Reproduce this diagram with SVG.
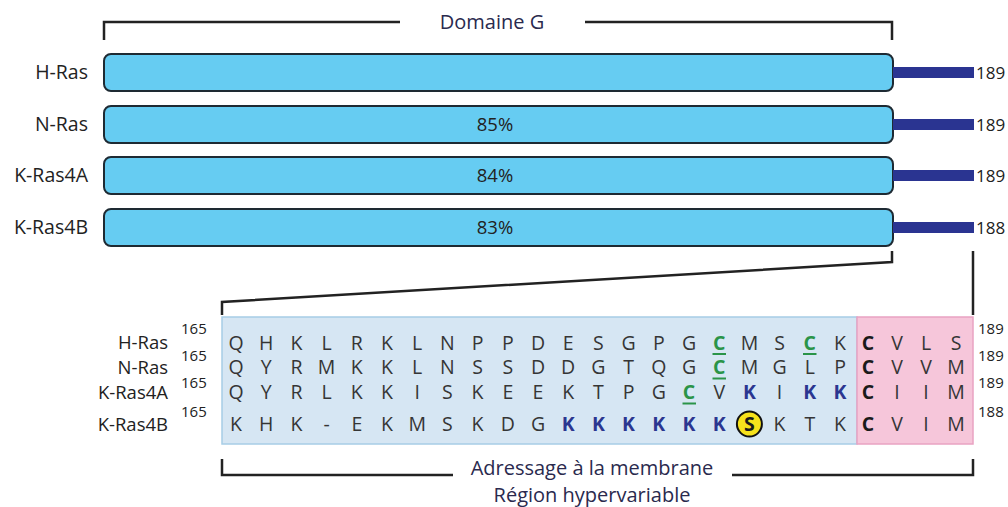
<svg xmlns="http://www.w3.org/2000/svg" width="1008" height="507" viewBox="0 0 1008 507">
<style>
text{font-family:"Open Sans","Liberation Sans",sans-serif;}
.lbl{font-size:19.5px;fill:#222;text-anchor:end;}
.slbl{font-size:18.5px;fill:#222;text-anchor:end;}
.bar{fill:#66ccf2;stroke:#1e2a33;stroke-width:2;}
.tail{fill:#2a3491;}
.num{font-size:17px;fill:#222;}
.pct{font-size:18.5px;fill:#222;text-anchor:middle;}
.brk{fill:none;stroke:#222;stroke-width:2.5;}
.seq{font-size:19.5px;fill:#353535;text-anchor:middle;}
.g{fill:#2a9448;font-weight:bold;}
.b{fill:#2b3690;font-weight:bold;}
.k{fill:#1a1a1a;font-weight:bold;}
.ul{stroke:#2a9448;stroke-width:2;}
.sm{font-size:15px;fill:#222;}
.title{font-size:20px;fill:#2a2a4e;text-anchor:middle;}
</style>
<g id="bracket-top">
<path class="brk" d="M104,40 V22 H400 M585,22 H892 V40"/>
<text class="title" x="492" y="29">Domaine G</text>
</g>
<g id="hras-bar">
<text class="lbl" x="88" y="79">H-Ras</text>
<rect class="bar" x="104" y="54" width="789" height="37" rx="7"/>
<rect class="tail" x="893" y="67" width="81" height="11"/>
<text class="num" x="976" y="78.5">189</text>
</g>
<g id="nras-bar">
<text class="lbl" x="88" y="131">N-Ras</text>
<rect class="bar" x="104" y="106" width="789" height="37" rx="7"/>
<rect class="tail" x="893" y="119" width="81" height="11"/>
<text class="num" x="976" y="130.5">189</text>
<text class="pct" x="495" y="131">85%</text>
</g>
<g id="kras4a-bar">
<text class="lbl" x="88" y="182">K-Ras4A</text>
<rect class="bar" x="104" y="157" width="789" height="37" rx="7"/>
<rect class="tail" x="893" y="170" width="81" height="11"/>
<text class="num" x="976" y="181.5">189</text>
<text class="pct" x="495" y="182">84%</text>
</g>
<g id="kras4b-bar">
<text class="lbl" x="88" y="234">K-Ras4B</text>
<rect class="bar" x="104" y="209" width="789" height="37" rx="7"/>
<rect class="tail" x="893" y="222" width="81" height="11"/>
<text class="num" x="976" y="233.5">188</text>
<text class="pct" x="495" y="234">83%</text>
</g>
<g id="connectors">
<path class="brk" d="M892,251 V262 L222,302 V315"/>
<path class="brk" d="M973,251 V315"/>
</g>
<g id="hvr-box">
<rect x="222" y="317" width="635" height="127" fill="#d6e6f3" stroke="#a7cde6" stroke-width="1.5"/>
<rect x="857" y="317" width="116" height="127" fill="#f6c6da" stroke="#e9a3c2" stroke-width="1.5"/>
</g>
<g id="seq-labels">
<text class="slbl" x="168" y="349">H-Ras</text>
<text class="slbl" x="168" y="373.5">N-Ras</text>
<text class="slbl" x="168" y="398.5">K-Ras4A</text>
<text class="slbl" x="168" y="431">K-Ras4B</text>
<text class="sm" x="181" y="334">165</text>
<text class="sm" x="181" y="361">165</text>
<text class="sm" x="181" y="388">165</text>
<text class="sm" x="181" y="417">165</text>
<text class="sm" x="978" y="334">189</text>
<text class="sm" x="978" y="361">189</text>
<text class="sm" x="978" y="388">189</text>
<text class="sm" x="978" y="417">188</text>
</g>
<g id="row-hras">
<text class="seq" y="349.5" x="236 266.2 296.4 326.6 356.8 387 417.2 447.4 477.6 507.8 538 568.2 598.4 628.6 658.8 689 719.2 749.4 779.6 809.8 840 868 897 926 956">QHKLRKLNPPDESGPG<tspan class="g">C</tspan>MS<tspan class="g">C</tspan>K<tspan class="k">C</tspan>VLS</text>
<line class="ul" x1="712.5" y1="354" x2="726" y2="354"/>
<line class="ul" x1="803" y1="354" x2="816.5" y2="354"/>
</g>
<g id="row-nras">
<text class="seq" y="374" x="236 266.2 296.4 326.6 356.8 387 417.2 447.4 477.6 507.8 538 568.2 598.4 628.6 658.8 689 719.2 749.4 779.6 809.8 840 868 897 926 956">QYRMKKLNSSDDGTQG<tspan class="g">C</tspan>MGLP<tspan class="k">C</tspan>VVM</text>
<line class="ul" x1="712.5" y1="378.5" x2="726" y2="378.5"/>
</g>
<g id="row-kras4a">
<text class="seq" y="399" x="236 266.2 296.4 326.6 356.8 387 417.2 447.4 477.6 507.8 538 568.2 598.4 628.6 658.8 689 719.2 749.4 779.6 809.8 840 868 897 926 956">QYRLKKISKEEKTPG<tspan class="g">C</tspan>V<tspan class="b">K</tspan>I<tspan class="b">KK</tspan><tspan class="k">C</tspan>IIM</text>
<line class="ul" x1="682.5" y1="403.5" x2="696" y2="403.5"/>
</g>
<g id="row-kras4b">
<circle cx="749.4" cy="424" r="12.5" fill="#f7e21c" stroke="#111" stroke-width="2"/>
<text class="seq" y="431" x="236 266.2 296.4 326.6 356.8 387 417.2 447.4 477.6 507.8 538 568.2 598.4 628.6 658.8 689 719.2 749.4 779.6 809.8 840 868 897 926 956">KHK-EKMSKDG<tspan class="b">KKKKKK</tspan><tspan class="k">S</tspan>KTK<tspan class="k">C</tspan>VIM</text>
</g>
<g id="bracket-bottom">
<path class="brk" d="M222,459 V475 H453 M732,475 H973 V459"/>
<text class="title" x="592" y="475">Adressage à la membrane</text>
<text class="title" x="592" y="502">Région hypervariable</text>
</g>
</svg>
